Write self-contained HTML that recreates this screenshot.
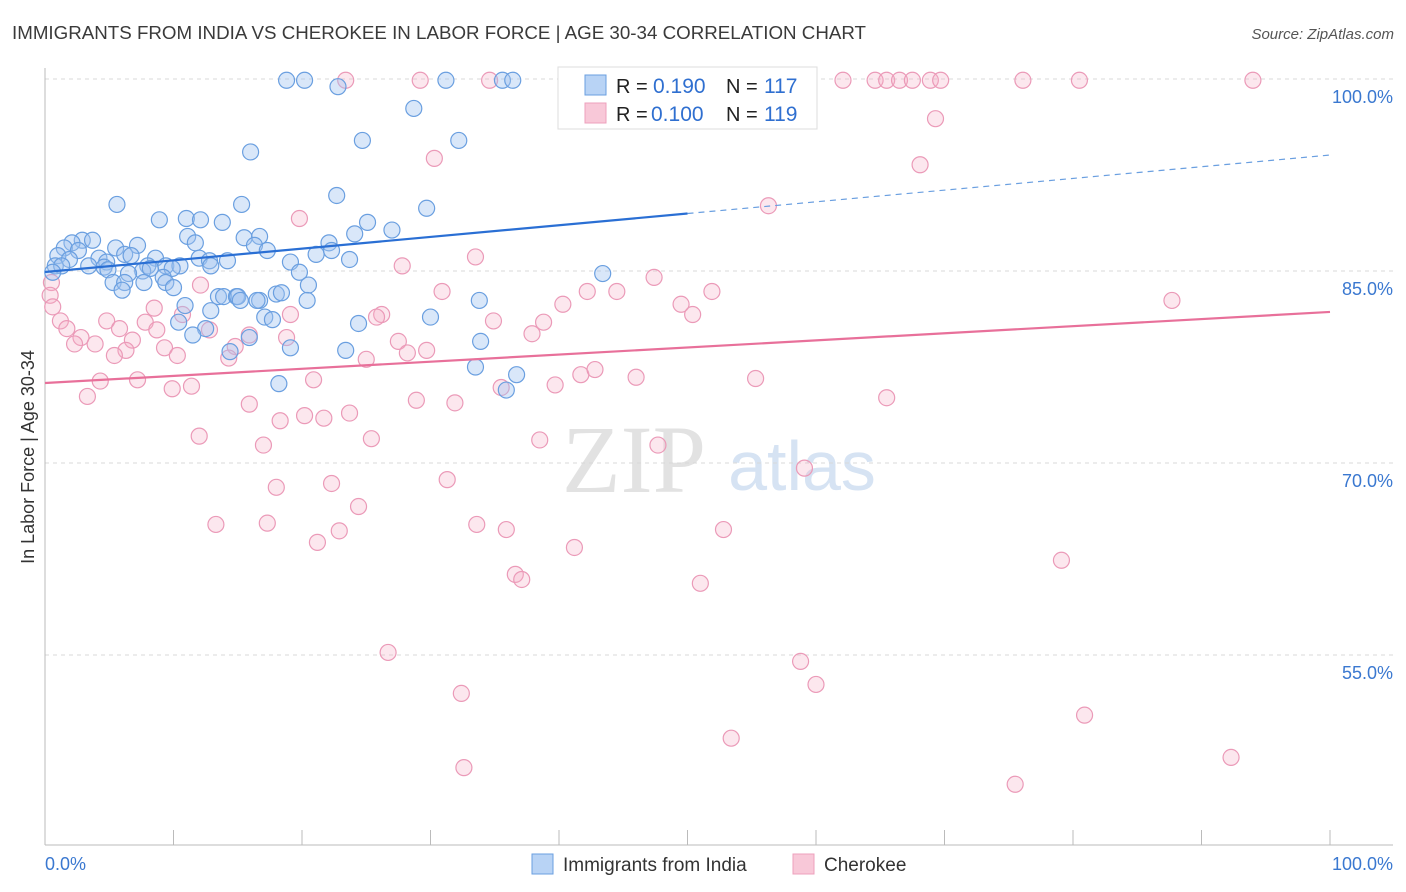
<!DOCTYPE html>
<html><head><meta charset="utf-8"><style>
body{margin:0;background:#fff;font-family:"Liberation Sans",sans-serif}
svg{display:block}
</style></head><body>
<svg id="chart" width="1406" height="892" viewBox="0 0 1406 892" xmlns="http://www.w3.org/2000/svg">
<text x="12" y="39" font-size="18" textLength="854" lengthAdjust="spacingAndGlyphs" fill="#3a3a3a">IMMIGRANTS FROM INDIA VS CHEROKEE IN LABOR FORCE | AGE 30-34 CORRELATION CHART</text>
<text x="1394" y="39" font-size="15" fill="#555" font-style="italic" text-anchor="end">Source: ZipAtlas.com</text>
<g>
<text x="634" y="492" font-size="96" fill="#e2e2e2" font-family="Liberation Serif,serif" text-anchor="middle">ZIP</text>
<text x="802" y="490" font-size="70" fill="#d6e3f3" text-anchor="middle">atlas</text>
</g>
<g id="grid"></g>
<g id="axes"></g>
<g id="pink"></g>
<g id="blue"></g>
<g id="trends"></g>
<g>
<rect x="558" y="67" width="259" height="62" fill="#fff" stroke="#ddd"/>
<rect x="585" y="75" width="21" height="20" fill="#b8d3f5" stroke="#6a9fe0"/>
<rect x="585" y="103" width="21" height="20" fill="#f8c8d8" stroke="#eea0bc"/>
<text x="616" y="93" font-size="20" fill="#222">R =</text>
<text x="653" y="93" font-size="21" fill="#2f6fd0">0.190</text>
<text x="726" y="93" font-size="20" fill="#222">N =</text>
<text x="764" y="93" font-size="21" fill="#2f6fd0">117</text>
<text x="616" y="121" font-size="20" fill="#222">R =</text>
<text x="651" y="121" font-size="21" fill="#2f6fd0">0.100</text>
<text x="726" y="121" font-size="20" fill="#222">N =</text>
<text x="764" y="121" font-size="21" fill="#2f6fd0">119</text>
</g>
<g>
<rect x="532" y="854" width="21" height="20" fill="#b8d3f5" stroke="#6a9fe0"/>
<text x="563" y="871" font-size="19" fill="#333">Immigrants from India</text>
<rect x="793" y="854" width="21" height="20" fill="#f8c8d8" stroke="#eea0bc"/>
<text x="824" y="871" font-size="19" fill="#333">Cherokee</text>
</g>
<text transform="translate(34,457) rotate(-90)" font-size="18" fill="#333" text-anchor="middle">In Labor Force | Age 30-34</text>
<text x="45" y="870" font-size="18" fill="#3a78d0">0.0%</text>
<text x="1393" y="870" font-size="18" fill="#3a78d0" text-anchor="end">100.0%</text>
</svg>
<script>
const yTicks=[100,85,70,55];
const yTickLabels=["100.0%","85.0%","70.0%","55.0%"];
const xTicks=[0,10,20,30,40,50,60,70,80,90,100];
const blueX=[18.8,20.2,31.2,35.6,36.4,40.6,22.8,28.7,24.7,32.2,16.0,22.7,5.6,15.3,29.7,8.9,11.0,12.1,13.8,25.1,27.0,11.1,15.5,16.7,24.1,11.7,7.2,16.3,22.1,2.9,3.7,2.1,1.5,5.5,17.3,21.1,22.3,2.6,1.0,4.2,6.2,6.7,1.9,4.8,8.6,12.0,14.2,12.8,19.1,23.7,0.8,1.3,3.4,4.6,8.0,9.4,10.5,12.9,7.6,9.9,4.9,8.2,0.6,19.8,43.4,6.5,9.2,5.3,6.2,7.7,9.4,20.5,10.0,6.0,13.5,13.9,14.9,15.0,15.2,18.0,18.4,16.7,20.4,33.8,10.9,16.5,12.9,17.1,17.7,30.0,10.4,24.4,12.5,11.5,15.9,33.9,19.1,23.4,14.4,33.5,36.7,18.2,35.9];
const blueY=[99.9,99.9,99.9,99.9,99.9,99.9,99.4,97.7,95.2,95.2,94.3,90.9,90.2,90.2,89.9,89.0,89.1,89.0,88.8,88.8,88.2,87.7,87.6,87.7,87.9,87.2,87.0,87.0,87.2,87.4,87.4,87.2,86.8,86.8,86.6,86.3,86.6,86.6,86.2,86.0,86.3,86.2,85.9,85.7,86.0,86.0,85.8,85.8,85.7,85.9,85.4,85.4,85.4,85.3,85.4,85.4,85.4,85.4,85.0,85.2,85.1,85.2,84.9,84.9,84.8,84.8,84.5,84.1,84.1,84.1,84.1,83.9,83.7,83.5,83.0,83.0,83.0,83.0,82.7,83.2,83.3,82.7,82.7,82.7,82.3,82.7,81.9,81.4,81.2,81.4,81.0,80.9,80.5,80.0,79.8,79.5,79.0,78.8,78.7,77.5,76.9,76.2,75.7];
const pinkX=[23.4,29.2,34.6,46.0,51.6,62.1,64.6,65.5,66.5,67.5,68.9,69.7,76.1,80.5,94.0,69.3,30.3,68.1,56.3,19.8,33.5,27.8,47.4,30.9,42.2,44.5,51.9,87.7,0.5,0.4,0.6,12.1,40.3,49.5,50.4,8.5,10.7,26.2,25.8,1.2,4.8,7.8,19.1,34.9,38.8,1.7,5.8,8.7,12.8,15.9,18.8,37.9,2.8,2.3,3.9,6.8,27.5,14.8,9.3,6.3,5.4,10.3,14.3,28.2,29.7,25.0,4.3,7.2,20.9,41.7,42.8,46.0,55.3,9.9,11.4,35.5,39.7,3.3,28.9,31.9,65.5,15.9,23.7,20.2,21.7,18.3,12.0,25.4,38.5,47.7,17.0,59.1,31.3,18.0,22.3,24.4,13.3,17.3,33.6,35.9,52.8,22.9,21.2,41.2,79.1,36.6,37.1,51.0,26.7,58.8,60.0,32.4,80.9,53.4,32.6,92.3,75.5];
const pinkY=[99.9,99.9,99.9,99.9,99.9,99.9,99.9,99.9,99.9,99.9,99.9,99.9,99.9,99.9,99.9,96.9,93.8,93.3,90.1,89.1,86.1,85.4,84.5,83.4,83.4,83.4,83.4,82.7,84.1,83.1,82.2,83.9,82.4,82.4,81.6,82.1,81.6,81.6,81.4,81.1,81.1,81.0,81.6,81.1,81.0,80.5,80.5,80.4,80.4,80.0,79.8,80.1,79.8,79.3,79.3,79.6,79.5,79.1,79.0,78.8,78.4,78.4,78.2,78.6,78.8,78.1,76.4,76.5,76.5,76.9,77.3,76.7,76.6,75.8,76.0,75.9,76.1,75.2,74.9,74.7,75.1,74.6,73.9,73.7,73.5,73.3,72.1,71.9,71.8,71.4,71.4,69.6,68.7,68.1,68.4,66.6,65.2,65.3,65.2,64.8,64.8,64.7,63.8,63.4,62.4,61.3,60.9,60.6,55.2,54.5,52.7,52.0,50.3,48.5,46.2,47.0,44.9];
const blueTrend=[84.92,94.06];
const pinkTrend=[76.25,81.8];
const NS="http://www.w3.org/2000/svg";
function sx(v){return 45+v*12.85;}
function sy(v){return 79+(100-v)*12.8;}
function mk(tag,attrs,parent){const e=document.createElementNS(NS,tag);for(const k in attrs)e.setAttribute(k,attrs[k]);parent.appendChild(e);return e;}
const grid=document.getElementById('grid'),axes=document.getElementById('axes');
yTicks.forEach((t,i)=>{
  const l=mk('line',{x1:45,x2:1393,y1:sy(t),y2:sy(t),stroke:'#d8d8d8','stroke-dasharray':'4,4'},grid);
  
  
  const tx=mk('text',{x:1393,y:sy(t)+24,'font-size':18,fill:'#3a78d0','text-anchor':'end'},axes);
  tx.textContent=yTickLabels[i];
  
  
});
const ya=mk('line',{x1:45,x2:45,y1:68,y2:845,stroke:'#bbb'},axes);


const xa=mk('line',{x1:45,x2:1393,y1:845,y2:845,stroke:'#bbb'},axes);


xTicks.forEach(t=>{
  const l=mk('line',{x1:sx(t),x2:sx(t),y1:830,y2:845,stroke:'#bbb'},axes);
  
  
});
const pg=document.getElementById('pink');
pinkX.forEach((x,i)=>{
  const c=mk('circle',{cx:sx(x),cy:sy(pinkY[i]),r:8,fill:'rgba(246,175,200,0.3)',stroke:'#eb9ab8','stroke-width':1.2},pg);
  
  
});
const bg=document.getElementById('blue');
blueX.forEach((x,i)=>{
  const c=mk('circle',{cx:sx(x),cy:sy(blueY[i]),r:8,fill:'rgba(160,196,240,0.4)',stroke:'#6a9fe0','stroke-width':1.2},bg);
  
  
});
const tg=document.getElementById('trends');
const bm=blueTrend[0]+(blueTrend[1]-blueTrend[0])*0.5;
const b1=mk('line',{x1:sx(0),y1:sy(blueTrend[0]),x2:sx(50),y2:sy(bm),stroke:'#2a6fd4','stroke-width':2.2},tg);


const b2=mk('line',{x1:sx(50),y1:sy(bm),x2:sx(100),y2:sy(blueTrend[1]),stroke:'#6a9fe0','stroke-width':1.2,'stroke-dasharray':'6,5'},tg);


const p1=mk('line',{x1:sx(0),y1:sy(pinkTrend[0]),x2:sx(100),y2:sy(pinkTrend[1]),stroke:'#e8709a','stroke-width':2.2},tg);


</script>
</body></html>
